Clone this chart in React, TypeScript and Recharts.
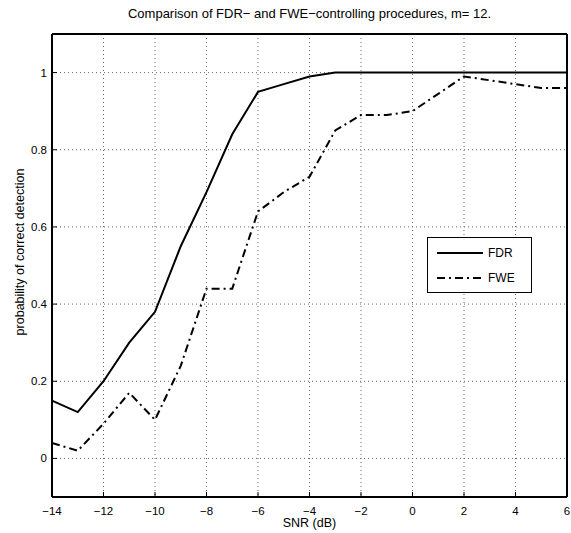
import { FC } from 'react'
import { LineChart, Line, XAxis, YAxis, CartesianGrid, Legend } from 'recharts'

// SNR в дБ
const snr = [-14, -13, -12, -11, -10, -9, -8, -7, -6, -5, -4, -3, -2, -1, 0, 1, 2, 3, 4, 5, 6]
const fdr = [0.15, 0.12, 0.2, 0.3, 0.38, 0.55, 0.69, 0.84, 0.95, 0.97, 0.99, 1, 1, 1, 1, 1, 1, 1, 1, 1, 1]
const fwe = [0.04, 0.02, 0.09, 0.17, 0.1, 0.24, 0.44, 0.44, 0.64, 0.69, 0.73, 0.85, 0.89, 0.89, 0.9, 0.945, 0.99, 0.98, 0.97, 0.96, 0.96]

const xTicks = [-14, -12, -10, -8, -6, -4, -2, 0, 2, 4, 6]
const yTicks = [0, 0.2, 0.4, 0.6, 0.8, 1]

const seriesNames = ['FDR', 'FWE']
const seriesDash = ['0', '8 4 2 4']

const data = snr.map((x, i) => ({ snr: x, FDR: fdr[i], FWE: fwe[i] }))

const FONT = '"Liberation Sans", Arial, Helvetica, sans-serif'

// минус как в MATLAB
const fmt = (v: unknown): string => String(v).replace('-', '\u2212')

const tickStyle = { fontSize: 11.5, fill: '#000', fontFamily: FONT }

const LegendBox: FC = () => (
  <div
    style={{
      width: 105,
      height: 56,
      boxSizing: 'border-box',
      border: '1px solid #000',
      background: '#fff',
      fontFamily: FONT,
      fontSize: 12,
      paddingTop: 4,
    }}
  >
    {seriesNames.map((name, i) => (
      <div key={name} style={{ display: 'flex', alignItems: 'center', height: 21, marginBottom: i === 0 ? 4 : 0 }}>
        <svg width={60} height={10} style={{ display: 'block' }}>
          <line x1={9} x2={55} y1={5} y2={5} stroke="#000" strokeWidth={2} strokeDasharray={seriesDash[i]} />
        </svg>
        <span>{name}</span>
      </div>
    ))}
  </div>
)

const App: FC = () => {
  return (
    <div style={{ position: 'absolute', left: 0, top: 0, width: 571, height: 533, background: '#fff', fontFamily: FONT }}>
      <LineChart width={571} height={533} data={data} margin={{ top: 33, right: 3, bottom: 35, left: 51 }}>
        <CartesianGrid stroke="#666" strokeDasharray="1 3" strokeWidth={1} />

        <XAxis
          dataKey="snr"
          type="number"
          domain={[-14, 6]}
          ticks={xTicks}
          height={1}
          tickSize={-5}
          tickMargin={15}
          tickFormatter={fmt}
          tick={tickStyle}
          axisLine={{ stroke: '#000', strokeWidth: 2 }}
          tickLine={{ stroke: '#000' }}
        />
        <XAxis
          xAxisId="top"
          orientation="top"
          dataKey="snr"
          type="number"
          domain={[-14, 6]}
          ticks={xTicks}
          height={1}
          tickSize={-5}
          tick={false}
          axisLine={{ stroke: '#000', strokeWidth: 2 }}
          tickLine={{ stroke: '#000' }}
        />
        <YAxis
          type="number"
          domain={[-0.1, 1.1]}
          ticks={yTicks}
          width={1}
          tickSize={-5}
          tickMargin={10}
          tickFormatter={fmt}
          tick={tickStyle}
          axisLine={{ stroke: '#000', strokeWidth: 2 }}
          tickLine={{ stroke: '#000' }}
        />
        <YAxis
          yAxisId="right"
          orientation="right"
          type="number"
          domain={[-0.1, 1.1]}
          ticks={yTicks}
          width={1}
          tickSize={-5}
          tick={false}
          axisLine={{ stroke: '#000', strokeWidth: 2 }}
          tickLine={{ stroke: '#000' }}
        />

        <Legend
          layout="horizontal"
          verticalAlign="middle"
          align="center"
          content={() => <LegendBox />}
          wrapperStyle={{ position: 'absolute', left: 427, top: 237, width: 105, height: 56 }}
        />

        <Line
          type="linear"
          dataKey="FDR"
          stroke="#000"
          strokeWidth={2}
          dot={false}
          isAnimationActive={false}
        />
        <Line
          type="linear"
          dataKey="FWE"
          stroke="#000"
          strokeWidth={2}
          strokeDasharray={seriesDash[1]}
          dot={false}
          isAnimationActive={false}
        />
      </LineChart>

      <div
        style={{
          position: 'absolute',
          left: 52,
          width: 515,
          top: 6,
          textAlign: 'center',
          fontSize: 13,
          lineHeight: '16px',
        }}
      >
        Comparison of FDR{'\u2212'} and FWE{'\u2212'}controlling procedures, m= 12.
      </div>

      <div
        style={{
          position: 'absolute',
          left: 52,
          width: 515,
          top: 515,
          textAlign: 'center',
          fontSize: 12.5,
          lineHeight: '16px',
        }}
      >
        SNR (dB)
      </div>

      <div
        style={{
          position: 'absolute',
          left: 20 - 150,
          top: 252 - 8,
          width: 300,
          height: 16,
          textAlign: 'center',
          fontSize: 12.5,
          lineHeight: '16px',
          transform: 'rotate(-90deg)',
        }}
      >
        probability of correct detection
      </div>
    </div>
  )
}

export default App
